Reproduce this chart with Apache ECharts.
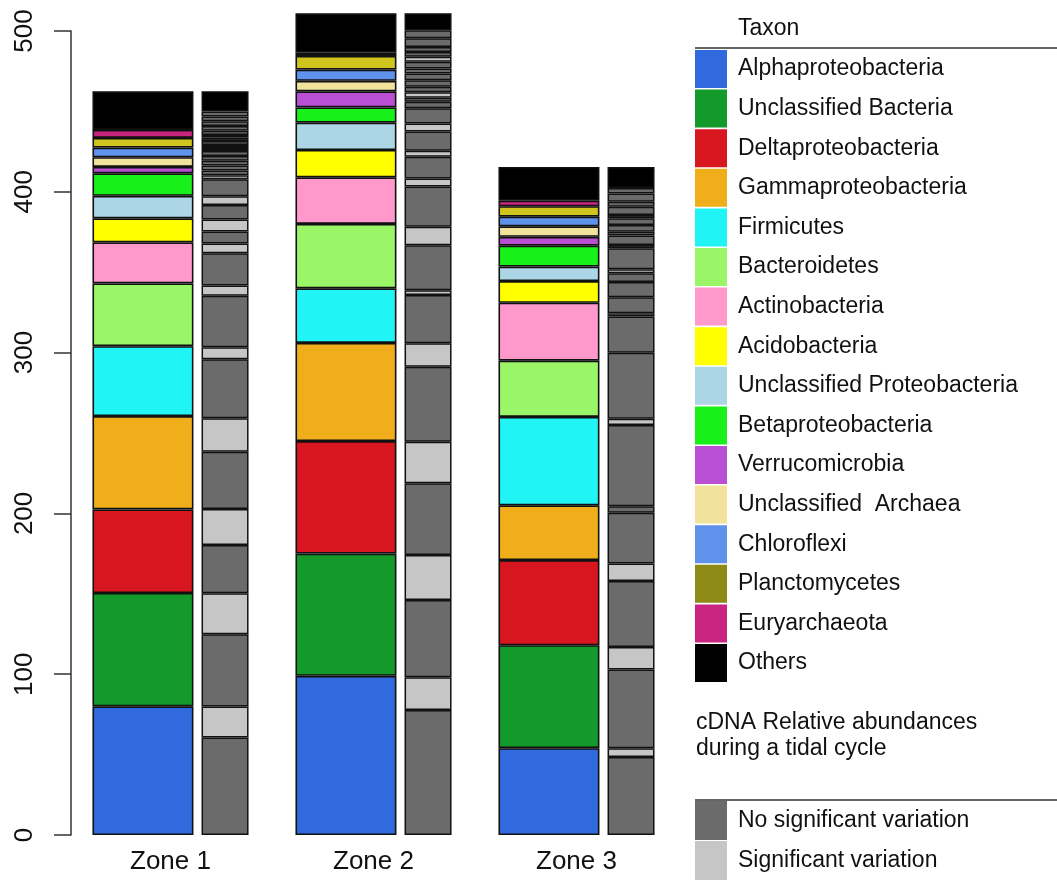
<!DOCTYPE html>
<html>
<head>
<meta charset="utf-8">
<title>Taxon abundances per zone</title>
<script src="https://cdn.jsdelivr.net/npm/echarts@6/dist/echarts.min.js"></script>
<style>
  html, body { margin: 0; padding: 0; background: #fff; }
  #chart { width: 1057px; height: 887px; }
</style>
</head>
<body>
<div id="chart"></div>
<script>
const zones = ['Zone 1', 'Zone 2', 'Zone 3'];

// legend order = stack order, bottom to top
const taxa = [
  'Alphaproteobacteria', 'Unclassified Bacteria', 'Deltaproteobacteria', 'Gammaproteobacteria',
  'Firmicutes', 'Bacteroidetes', 'Actinobacteria', 'Acidobacteria',
  'Unclassified Proteobacteria', 'Betaproteobacteria', 'Verrucomicrobia', 'Unclassified  Archaea',
  'Chloroflexi', 'Planctomycetes', 'Euryarchaeota', 'Others'
];
const taxonColors = [
  '#3169de', '#139a2b', '#d8161f', '#efae1a',
  '#20f4f4', '#9af567', '#ff99cc', '#ffff00',
  '#acd6e6', '#18f01a', '#b94fd2', '#f2e39c',
  '#5f92ea', '#d0c51e', '#c82480', '#000000'
];

// abundances of each taxon, per zone
const zone1Taxa = [80, 70.5, 52, 58, 43.5, 39, 25.5, 15, 14, 14, 4, 6, 6, 6, 5, 24];
const zone2Taxa = [99, 76, 70, 61, 34, 40, 29, 17, 17, 9.5, 10, 6.5, 7, 8.5, 2, 24.5];
const zone3Taxa = [54, 64, 53, 34, 55, 35, 36, 13.5, 9, 13, 5.5, 6.5, 6, 6.5, 3.5, 21];

// grey bars: segments bottom to top, n = no significant variation, s = significant, o = others
const zone1Grey = [60.6, 19.3, 45, 25.5, 30, 22.3, 35.7, 20.7, 36.7, 7.5, 32, 6.5, 20, 6, 7.5, 7.5, 9, 5.5,
  10.5, 2.5, 3, 3, 3, 3, 3, 2, 1.8, 2.5, 2, 1.8, 2.5, 3, 3, 3, 3, 12.6];
const zone1Kind = ['n', 's', 'n', 's', 'n', 's', 'n', 's', 'n', 's', 'n', 's', 'n', 's', 'n', 's', 'n', 's',
  'n', 's', 'n', 'n', 'n', 'n', 'n', 'n', 's', 'n', 'n', 's', 'n', 'n', 'n', 'n', 'n', 'o'];

const zone2Grey = [77.7, 20.4, 48, 28, 44.6, 25.9, 46.6, 14.6, 30, 3, 28, 11.5, 25, 5, 13.5, 3.7, 12, 5,
  9.5, 4, 2.5, 3.4, 3.4, 4.1, 4.2, 3.1, 4.2, 3.1, 3, 3, 5.5, 5, 10.5];
const zone2Kind = ['n', 's', 'n', 's', 'n', 's', 'n', 's', 'n', 's', 'n', 's', 'n', 's', 'n', 's', 'n', 's',
  'n', 'n', 'n', 's', 'n', 'n', 'n', 'n', 'n', 's', 'n', 'n', 'n', 'n', 'o'];

const zone3Grey = [48.5, 5.4, 49, 14, 41, 11, 31.5, 4, 50.5, 4, 41, 22.5, 2, 10, 9.5, 5.5, 2.5, 13, 2, 6,
  2.2, 4.2, 4.2, 2, 5.2, 3.1, 5.2, 3.4, 13.1];
const zone3Kind = ['n', 's', 'n', 's', 'n', 's', 'n', 'n', 'n', 's', 'n', 'n', 's', 'n', 'n', 'n', 's', 'n',
  'n', 'n', 'n', 'n', 'n', 'n', 'n', 'n', 'n', 'n', 'o'];

const variationNames = ['No significant variation', 'Significant variation'];
const kindColor = { n: '#6b6b6b', s: '#c6c6c6', o: '#000000' };
const font = 'Liberation Sans, Arial, Helvetica, sans-serif';

const chart = echarts.init(document.getElementById('chart'));

const taxonData = [zone1Taxa, zone2Taxa, zone3Taxa];
const taxonSeries = taxa.map((name, i) => ({
  name: name,
  type: 'bar',
  stack: 'taxa',
  barWidth: 101,
  barGap: '8%',
  clip: false,
  emphasis: { disabled: true },
  itemStyle: { color: taxonColors[i], borderColor: '#111', borderWidth: 1.6 },
  data: taxonData.map(z => z[i])
}));

const greyZones = [zone1Grey, zone2Grey, zone3Grey];
const greyKinds = [zone1Kind, zone2Kind, zone3Kind];
const nSeg = Math.max(...greyZones.map(a => a.length));
const greySeries = [];
for (let i = 0; i < nSeg; i++) {
  greySeries.push({
    name: 'segment ' + i,
    type: 'bar',
    stack: 'grey',
    barWidth: 47,
    barGap: '8%',
    clip: false,
    emphasis: { disabled: true },
    itemStyle: { borderColor: '#111', borderWidth: 1.5 },
    data: greyZones.map((vals, z) => i < vals.length
      ? { value: vals[i], itemStyle: { color: kindColor[greyKinds[z][i]] } }
      : '-')
  });
}
// empty series, only there for the second legend
variationNames.forEach((name, i) => {
  greySeries.push({
    name: name, type: 'bar', stack: 'grey', barWidth: 47, barGap: '8%',
    itemStyle: { color: i === 0 ? kindColor.n : kindColor.s },
    data: []
  });
});

const legendText = { fontSize: 23, color: '#111', fontFamily: font, padding: [0, 0, 0, 6] };

const option = {
  animation: false,
  grid: { left: 69, top: 31, bottom: 52, width: 609 },
  xAxis: {
    type: 'category',
    data: zones,
    axisLine: { show: false },
    axisTick: { show: false },
    axisLabel: { fontSize: 26, color: '#111', fontFamily: font, margin: 14 }
  },
  yAxis: {
    type: 'value',
    min: 0,
    max: 500,
    interval: 100,
    offset: -2,
    splitLine: { show: false },
    axisLine: { show: true, lineStyle: { color: '#333', width: 1.5 } },
    axisTick: { show: true, length: 17, lineStyle: { color: '#333', width: 1.5 } },
    axisLabel: { rotate: 90, fontSize: 26, color: '#111', fontFamily: font, margin: 33 }
  },
  legend: [{
    data: taxa.map(name => name === 'Planctomycetes'
      ? { name: name, itemStyle: { color: '#8d8a16' } } : name),
    orient: 'vertical',
    left: 695,
    top: 50,
    padding: 0,
    itemWidth: 32,
    itemHeight: 38,
    itemGap: 1.6,
    icon: 'rect',
    selectedMode: false,
    itemStyle: { borderWidth: 0 },
    textStyle: legendText
  }, {
    data: variationNames,
    orient: 'vertical',
    left: 695,
    top: 801,
    padding: 0,
    itemWidth: 32,
    itemHeight: 39,
    itemGap: 1,
    icon: 'rect',
    selectedMode: false,
    itemStyle: { borderWidth: 0 },
    textStyle: legendText
  }],
  graphic: [
    { type: 'text', left: 738, top: 17, style: { text: 'Taxon', fontSize: 23, fill: '#111', fontFamily: font } },
    { type: 'line', shape: { x1: 695, y1: 48, x2: 1057, y2: 48 }, style: { stroke: '#333', lineWidth: 1.5 } },
    { type: 'text', left: 696, top: 710,
      style: { text: 'cDNA Relative abundances\nduring a tidal cycle', fontSize: 23, lineHeight: 26, fill: '#111', fontFamily: font } },
    { type: 'line', shape: { x1: 695, y1: 800, x2: 1057, y2: 800 }, style: { stroke: '#333', lineWidth: 1.5 } }
  ],
  series: taxonSeries.concat(greySeries)
};

chart.setOption(option);
</script>
</body>
</html>
